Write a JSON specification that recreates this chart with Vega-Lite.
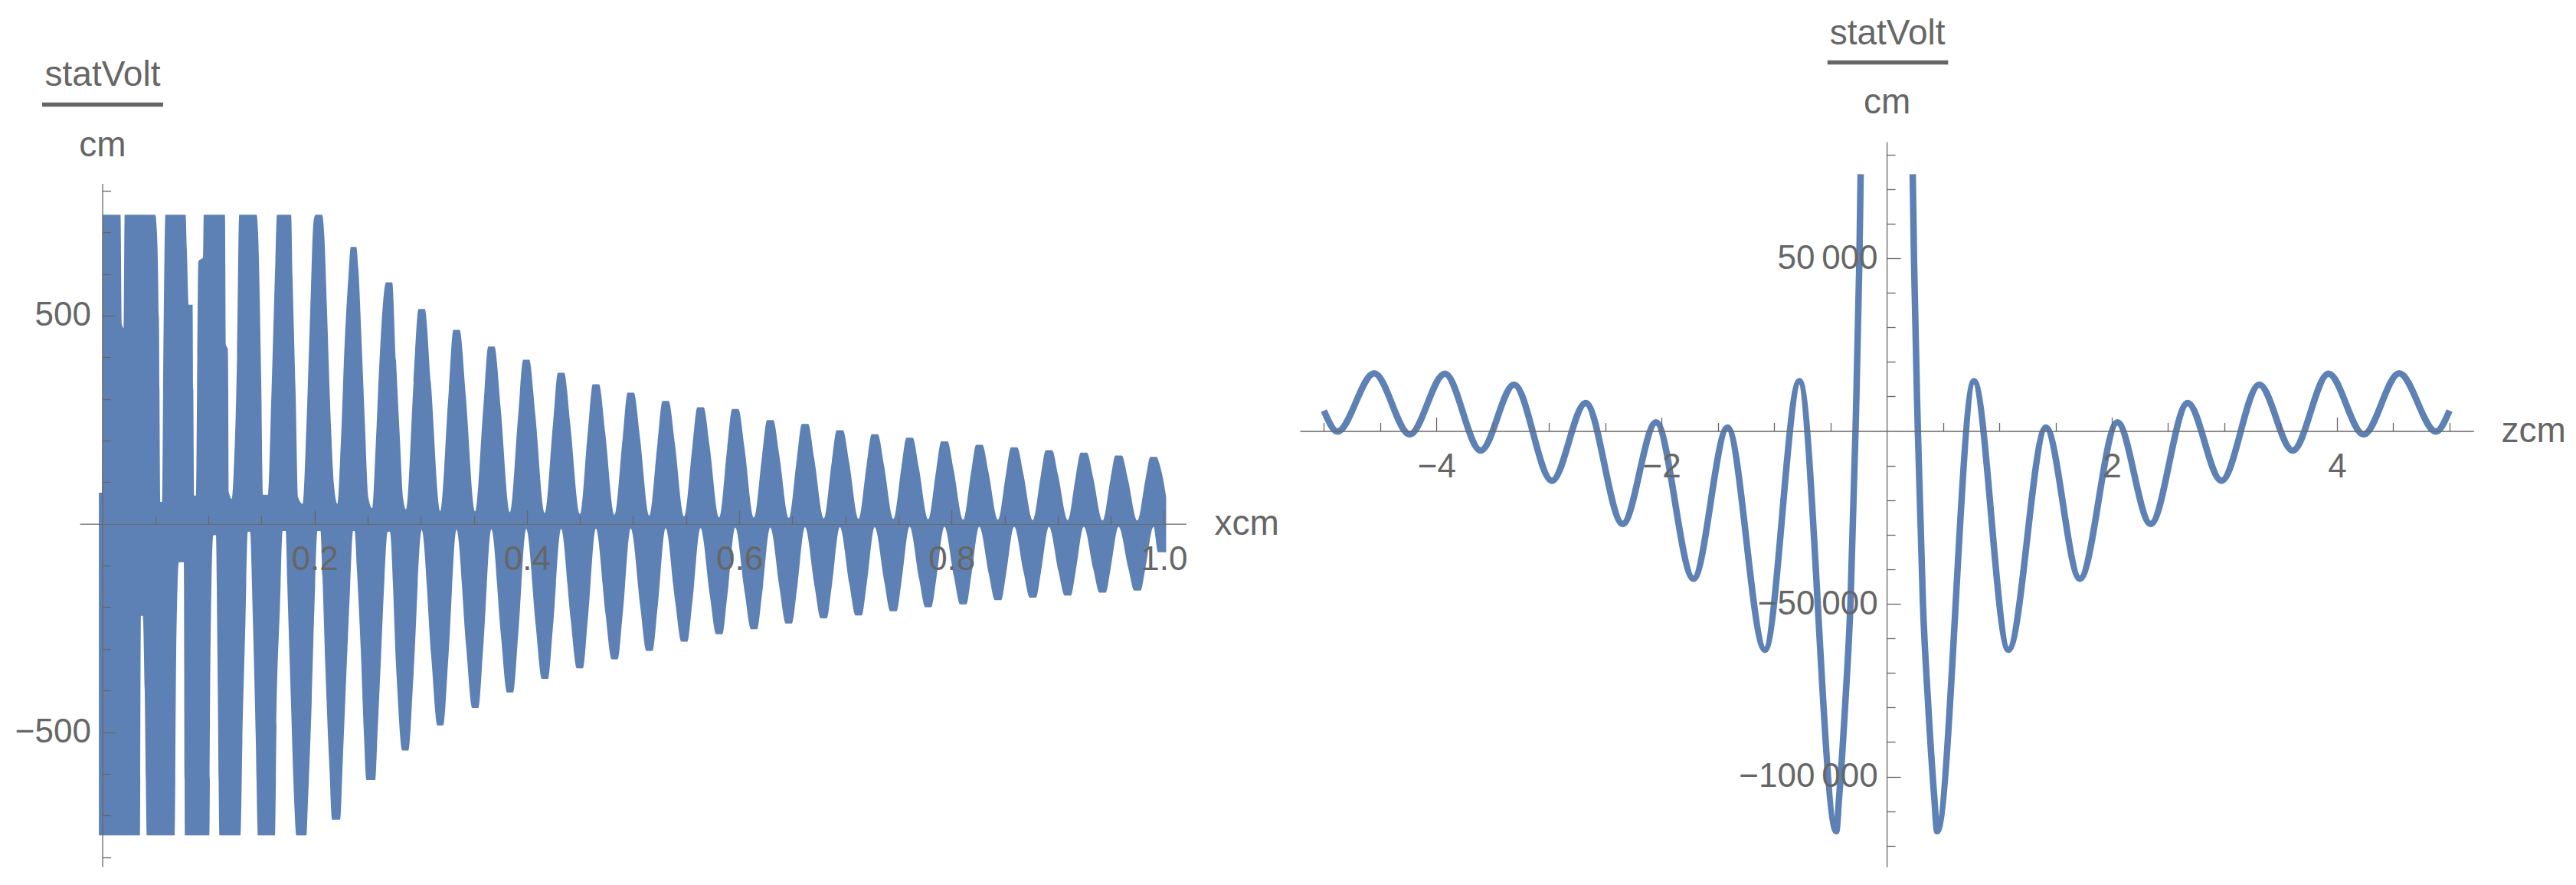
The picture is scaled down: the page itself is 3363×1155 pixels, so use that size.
{
"$schema": "https://vega.github.io/schema/vega-lite/v6.json",
"background": "white",
"padding": {"left": 19, "top": 20, "right": 0, "bottom": 0},
"config": {
 "view": {"stroke": null},
 "font": "Liberation Sans",
 "axis": {"grid": false, "domainColor": "#666666", "domainWidth": 1.3, "tickColor": "#666666", "tickWidth": 1.3, "labelColor": "#666666", "labelFont": "Liberation Sans", "labelFontSize": 44, "labelLimit": 0, "titleColor": "#666666", "titleFont": "Liberation Sans", "titleFontSize": 46, "titleFontWeight": "normal", "labelOverlap": false, "labelFlush": false, "labelBound": false, "zindex": 1, "titleAngle": 0},
 "title": {"font": "Liberation Sans", "fontSize": 46, "fontWeight": "normal", "color": "#666666", "anchor": "middle", "frame": "group"}
},
"datasets": {
 "pos": [
{"x":-0.0032,"v":75},{"x":0.0,"v":75},{"x":0.0003,"v":742},{"x":0.0172,"v":742},{"x":0.0184,"v":480},{"x":0.0202,"v":470},{"x":0.0211,"v":742},{"x":0.0499,"v":742},{"x":0.0516,"v":695},{"x":0.0534,"v":493},{"x":0.0548,"v":53},{"x":0.0563,"v":53},{"x":0.0577,"v":450},{"x":0.0595,"v":742},{"x":0.0785,"v":742},{"x":0.0797,"v":658},{"x":0.0815,"v":526},{"x":0.0851,"v":526},{"x":0.0866,"v":68},{"x":0.0885,"v":68},{"x":0.0895,"v":400},{"x":0.0905,"v":630},{"x":0.0949,"v":640},{"x":0.0956,"v":742},{"x":0.1156,"v":742},{"x":0.1165,"v":430},{"x":0.1183,"v":420},{"x":0.1194,"v":75},{"x":0.1219,"v":60},{"x":0.1237,"v":118},{"x":0.1270,"v":408},{"x":0.1290,"v":742},{"x":0.1454,"v":742},{"x":0.1468,"v":698},{"x":0.1497,"v":348},{"x":0.1515,"v":70},{"x":0.1562,"v":70},{"x":0.1595,"v":323},{"x":0.1631,"v":633},{"x":0.1646,"v":742},{"x":0.1779,"v":742},{"x":0.1793,"v":588},{"x":0.1822,"v":308},{"x":0.1847,"v":63},{"x":0.1887,"v":48},{"x":0.1926,"v":256},{"x":0.1959,"v":510},{"x":0.1991,"v":728},{"x":0.2009,"v":742},{"x":0.2071,"v":742},{"x":0.2089,"v":703},{"x":0.2118,"v":506},{"x":0.2150,"v":262},{"x":0.2183,"v":93},{"x":0.2215,"v":48},{"x":0.2248,"v":198},{"x":0.2284,"v":438},{"x":0.2320,"v":598},{"x":0.2341,"v":665},{"x":0.2392,"v":665},{"x":0.2413,"v":610},{"x":0.2442,"v":443},{"x":0.2475,"v":235},{"x":0.2507,"v":63},{"x":0.2543,"v":38},{"x":0.2576,"v":188},{"x":0.2608,"v":373},{"x":0.2644,"v":528},{"x":0.2673,"v":580},{"x":0.2731,"v":580},{"x":0.2767,"v":393},{"x":0.2803,"v":208},{"x":0.2835,"v":60},{"x":0.2861,"v":35},
{"x":0.2933,"v":341},{"x":0.2980,"v":516},{"x":0.3038,"v":516},{"x":0.3095,"v":341},{"x":0.3185,"v":30},
{"x":0.3261,"v":308},{"x":0.3308,"v":466},{"x":0.3366,"v":466},{"x":0.3424,"v":308},{"x":0.3514,"v":30},
{"x":0.3590,"v":281},{"x":0.3636,"v":426},{"x":0.3694,"v":426},{"x":0.3752,"v":281},{"x":0.3842,"v":28},
{"x":0.3918,"v":260},{"x":0.3965,"v":394},{"x":0.4022,"v":394},{"x":0.4080,"v":260},{"x":0.4170,"v":26},
{"x":0.4246,"v":240},{"x":0.4293,"v":363},{"x":0.4351,"v":363},{"x":0.4408,"v":240},{"x":0.4499,"v":24},
{"x":0.4574,"v":221},{"x":0.4621,"v":335},{"x":0.4679,"v":335},{"x":0.4737,"v":221},{"x":0.4827,"v":22},
{"x":0.4903,"v":208},{"x":0.4949,"v":315},{"x":0.5007,"v":315},{"x":0.5065,"v":208},{"x":0.5155,"v":20},
{"x":0.5231,"v":195},{"x":0.5278,"v":295},{"x":0.5335,"v":295},{"x":0.5393,"v":195},{"x":0.5483,"v":18},
{"x":0.5559,"v":185},{"x":0.5606,"v":280},{"x":0.5664,"v":280},{"x":0.5722,"v":185},{"x":0.5812,"v":16},
{"x":0.5887,"v":182},{"x":0.5934,"v":276},{"x":0.5992,"v":276},{"x":0.6050,"v":182},{"x":0.6140,"v":15},
{"x":0.6216,"v":164},{"x":0.6263,"v":249},{"x":0.6320,"v":249},{"x":0.6378,"v":164},{"x":0.6468,"v":14},
{"x":0.6544,"v":158},{"x":0.6591,"v":240},{"x":0.6649,"v":240},{"x":0.6706,"v":158},{"x":0.6797,"v":13},
{"x":0.6872,"v":149},{"x":0.6919,"v":225},{"x":0.6977,"v":225},{"x":0.7035,"v":149},{"x":0.7125,"v":12},
{"x":0.7201,"v":142},{"x":0.7248,"v":215},{"x":0.7305,"v":215},{"x":0.7363,"v":142},{"x":0.7453,"v":12},
{"x":0.7529,"v":137},{"x":0.7576,"v":207},{"x":0.7634,"v":207},{"x":0.7691,"v":137},{"x":0.7781,"v":11},
{"x":0.7857,"v":131},{"x":0.7904,"v":198},{"x":0.7962,"v":198},{"x":0.8019,"v":131},{"x":0.8110,"v":10},
{"x":0.8185,"v":125},{"x":0.8232,"v":190},{"x":0.8290,"v":190},{"x":0.8348,"v":125},{"x":0.8438,"v":10},
{"x":0.8514,"v":121},{"x":0.8561,"v":184},{"x":0.8618,"v":184},{"x":0.8676,"v":121},{"x":0.8766,"v":9},
{"x":0.8842,"v":117},{"x":0.8889,"v":177},{"x":0.8947,"v":177},{"x":0.9004,"v":117},{"x":0.9095,"v":9},
{"x":0.9170,"v":113},{"x":0.9217,"v":171},{"x":0.9275,"v":171},{"x":0.9333,"v":113},{"x":0.9423,"v":8},
{"x":0.9498,"v":108},{"x":0.9545,"v":164},{"x":0.9603,"v":164},{"x":0.9661,"v":108},{"x":0.9751,"v":8},
{"x":0.9827,"v":106},{"x":0.9874,"v":161},{"x":0.9931,"v":161},{"x":0.9953,"v":149},{"x":0.9989,"v":113},{"x":1.0022,"v":64}
 ],
 "neg": [
{"x":-0.0032,"v":-748},{"x":0.0355,"v":-748},{"x":0.0364,"v":-221},{"x":0.0382,"v":-221},{"x":0.0400,"v":-400},{"x":0.0420,"v":-748},{"x":0.0682,"v":-748},{"x":0.0696,"v":-320},{"x":0.0722,"v":-92},{"x":0.0768,"v":-92},{"x":0.0779,"v":-748},{"x":0.1009,"v":-748},{"x":0.1021,"v":-272},{"x":0.1046,"v":-27},{"x":0.1071,"v":-27},{"x":0.1086,"v":-337},{"x":0.1105,"v":-748},{"x":0.1302,"v":-748},{"x":0.1320,"v":-522},{"x":0.1349,"v":-232},{"x":0.1371,"v":-19},{"x":0.1392,"v":-19},{"x":0.1418,"v":-224},{"x":0.1447,"v":-527},{"x":0.1466,"v":-748},{"x":0.1627,"v":-748},{"x":0.1641,"v":-487},{"x":0.1674,"v":-197},{"x":0.1699,"v":-17},{"x":0.1728,"v":-17},{"x":0.1746,"v":-170},{"x":0.1779,"v":-440},{"x":0.1811,"v":-682},{"x":0.1829,"v":-748},{"x":0.1923,"v":-748},{"x":0.1937,"v":-670},{"x":0.1973,"v":-427},{"x":0.2002,"v":-172},{"x":0.2027,"v":-17},{"x":0.2056,"v":-17},{"x":0.2074,"v":-127},{"x":0.2103,"v":-354},{"x":0.2139,"v":-580},{"x":0.2165,"v":-710},{"x":0.2240,"v":-710},{"x":0.2266,"v":-567},{"x":0.2298,"v":-369},{"x":0.2334,"v":-157},{"x":0.2363,"v":-17},{"x":0.2377,"v":-17},{"x":0.2399,"v":-112},{"x":0.2435,"v":-302},{"x":0.2464,"v":-500},{"x":0.2489,"v":-615},{"x":0.2572,"v":-615},{"x":0.2594,"v":-497},{"x":0.2626,"v":-319},{"x":0.2659,"v":-129},{"x":0.2688,"v":-19},{"x":0.2709,"v":-19},
{"x":0.2771,"v":-359},{"x":0.2828,"v":-544},{"x":0.2886,"v":-544},{"x":0.2933,"v":-359},{"x":0.3009,"v":-15},
{"x":0.3099,"v":-319},{"x":0.3157,"v":-484},{"x":0.3214,"v":-484},{"x":0.3261,"v":-319},{"x":0.3337,"v":-14},
{"x":0.3427,"v":-292},{"x":0.3485,"v":-442},{"x":0.3543,"v":-442},{"x":0.3590,"v":-292},{"x":0.3665,"v":-13},
{"x":0.3755,"v":-267},{"x":0.3813,"v":-405},{"x":0.3871,"v":-405},{"x":0.3918,"v":-267},{"x":0.3994,"v":-12},
{"x":0.4084,"v":-246},{"x":0.4141,"v":-372},{"x":0.4199,"v":-372},{"x":0.4246,"v":-246},{"x":0.4322,"v":-12},
{"x":0.4412,"v":-229},{"x":0.4470,"v":-347},{"x":0.4527,"v":-347},{"x":0.4574,"v":-229},{"x":0.4650,"v":-11},
{"x":0.4740,"v":-215},{"x":0.4798,"v":-325},{"x":0.4856,"v":-325},{"x":0.4903,"v":-215},{"x":0.4978,"v":-11},
{"x":0.5069,"v":-201},{"x":0.5126,"v":-305},{"x":0.5184,"v":-305},{"x":0.5231,"v":-201},{"x":0.5307,"v":-10},
{"x":0.5397,"v":-187},{"x":0.5455,"v":-283},{"x":0.5512,"v":-283},{"x":0.5559,"v":-187},{"x":0.5635,"v":-10},
{"x":0.5725,"v":-175},{"x":0.5783,"v":-265},{"x":0.5841,"v":-265},{"x":0.5887,"v":-175},{"x":0.5963,"v":-9},
{"x":0.6053,"v":-167},{"x":0.6111,"v":-253},{"x":0.6169,"v":-253},{"x":0.6216,"v":-167},{"x":0.6292,"v":-9},
{"x":0.6382,"v":-158},{"x":0.6439,"v":-239},{"x":0.6497,"v":-239},{"x":0.6544,"v":-158},{"x":0.6620,"v":-8},
{"x":0.6710,"v":-150},{"x":0.6768,"v":-227},{"x":0.6825,"v":-227},{"x":0.6872,"v":-150},{"x":0.6948,"v":-8},
{"x":0.7038,"v":-145},{"x":0.7096,"v":-220},{"x":0.7154,"v":-220},{"x":0.7201,"v":-145},{"x":0.7276,"v":-8},
{"x":0.7367,"v":-139},{"x":0.7424,"v":-210},{"x":0.7482,"v":-210},{"x":0.7529,"v":-139},{"x":0.7605,"v":-7},
{"x":0.7695,"v":-132},{"x":0.7753,"v":-200},{"x":0.7810,"v":-200},{"x":0.7857,"v":-132},{"x":0.7933,"v":-7},
{"x":0.8023,"v":-127},{"x":0.8081,"v":-193},{"x":0.8139,"v":-193},{"x":0.8185,"v":-127},{"x":0.8261,"v":-7},
{"x":0.8352,"v":-121},{"x":0.8409,"v":-183},{"x":0.8467,"v":-183},{"x":0.8514,"v":-121},{"x":0.8590,"v":-7},
{"x":0.8680,"v":-117},{"x":0.8737,"v":-177},{"x":0.8795,"v":-177},{"x":0.8842,"v":-117},{"x":0.8918,"v":-7},
{"x":0.9008,"v":-114},{"x":0.9066,"v":-172},{"x":0.9123,"v":-172},{"x":0.9170,"v":-114},{"x":0.9246,"v":-7},
{"x":0.9336,"v":-109},{"x":0.9394,"v":-165},{"x":0.9452,"v":-165},{"x":0.9498,"v":-109},{"x":0.9574,"v":-7},
{"x":0.9665,"v":-106},{"x":0.9722,"v":-160},{"x":0.9780,"v":-160},{"x":0.9827,"v":-106},{"x":0.9903,"v":-7},
{"x":0.9946,"v":-68},{"x":1.0022,"v":-68}
 ],
 "zc": [
{"z":-5,"v":5900,"s":"a"},{"z":-4.88,"v":-150,"s":"a"},{"z":-4.553,"v":16700,"s":"a"},{"z":-4.237,"v":-1000,"s":"a"},{"z":-3.925,"v":16600,"s":"a"},{"z":-3.607,"v":-5650,"s":"a"},{"z":-3.31,"v":13400,"s":"a"},{"z":-2.974,"v":-14400,"s":"a"},{"z":-2.674,"v":8100,"s":"a"},{"z":-2.345,"v":-26900,"s":"a"},{"z":-2.049,"v":2500,"s":"a"},{"z":-1.716,"v":-42750,"s":"a"},{"z":-1.414,"v":1000,"s":"a"},{"z":-1.082,"v":-63300,"s":"a"},{"z":-0.775,"v":14400,"s":"a"},{"z":-0.448,"v":-115800,"s":"a"},{"z":-0.424,"v":-106600,"s":"a"},{"z":-0.367,"v":-78300,"s":"a"},{"z":-0.322,"v":-50000,"s":"a"},{"z":-0.277,"v":0,"s":"a"},{"z":-0.243,"v":49100,"s":"a"},{"z":-0.2313,"v":74300,"s":"a"},
{"z":0.2313,"v":74300,"s":"b"},{"z":0.243,"v":49100,"s":"b"},{"z":0.277,"v":0,"s":"b"},{"z":0.322,"v":-50000,"s":"b"},{"z":0.367,"v":-78300,"s":"b"},{"z":0.424,"v":-106600,"s":"b"},{"z":0.448,"v":-115800,"s":"b"},{"z":0.775,"v":14400,"s":"b"},{"z":1.082,"v":-63300,"s":"b"},{"z":1.414,"v":1000,"s":"b"},{"z":1.716,"v":-42750,"s":"b"},{"z":2.049,"v":2500,"s":"b"},{"z":2.345,"v":-26900,"s":"b"},{"z":2.674,"v":8100,"s":"b"},{"z":2.974,"v":-14400,"s":"b"},{"z":3.31,"v":13400,"s":"b"},{"z":3.607,"v":-5650,"s":"b"},{"z":3.925,"v":16600,"s":"b"},{"z":4.237,"v":-1000,"s":"b"},{"z":4.553,"v":16700,"s":"b"},{"z":4.88,"v":-150,"s":"b"},{"z":5,"v":5900,"s":"b"}
 ]
},
"columns": 2,
"bounds": "full",
"spacing": 27,
"concat": [
 {
  "width": 1444.5,
  "height": 946.1,
  "title": {"text": "statVolt", "dx": -692.25, "offset": 12.3},
  "layer": [
   {
    "data": {"name": "pos"},
    "mark": {"type": "area", "interpolate": "monotone", "color": "#5e81b5"},
    "encoding": {
     "x": {"field": "x", "type": "quantitative", "scale": {"domain": [-0.02129, 1.021], "nice": false, "zero": false},
      "axis": {"orient": "bottom", "offset": -447.4, "zindex": 2,
       "values": [0.05,0.1,0.15,0.2,0.25,0.3,0.35,0.4,0.45,0.5,0.55,0.6,0.65,0.7,0.75,0.8,0.85,0.9,0.95,1],
       "tickSize": {"condition": {"test": "abs(datum.value*5 - round(datum.value*5)) < 0.000001", "value": -18}, "value": -11},
       "labelExpr": "abs(datum.value*5 - round(datum.value*5)) < 0.000001 ? format(datum.value, '.1f') : ''",
       "labelPadding": 43.2, "labelBaseline": "top", "labelAlign": "center",
       "title": "xcm", "titleX": 1481, "titleY": 0, "titleAlign": "left", "titleBaseline": "middle"}},
     "y": {"field": "v", "type": "quantitative", "scale": {"domain": [-823, 917.4], "nice": false, "zero": false},
      "axis": {"orient": "left", "offset": -29.5, "zindex": 2, "domainDash": [891.6, 3000],
       "values": [-800,-700,-600,-500,-400,-300,-200,-100,100,200,300,400,500,600,700,800],
       "tickSize": {"condition": {"test": "abs(datum.value) == 500", "value": -18}, "value": -11},
       "labelExpr": "abs(datum.value) == 500 ? format(datum.value, 'd') : ''",
       "labelPadding": 33.1, "labelAlign": "right", "labelBaseline": "middle",
       "title": "cm", "titleX": 0, "titleY": 18.5, "titleAlign": "center", "titleBaseline": "alphabetic"}},
     "y2": {"datum": 0}
    }
   },
   {
    "data": {"name": "neg"},
    "mark": {"type": "area", "interpolate": "monotone", "color": "#5e81b5"},
    "encoding": {
     "x": {"field": "x", "type": "quantitative"},
     "y": {"field": "v", "type": "quantitative"},
     "y2": {"datum": 0}
    }
   },
   {
    "data": {"values": [{"bar": "fraction"}]},
    "mark": {"type": "rule", "strokeWidth": 5.4, "color": "#666666"},
    "encoding": {
     "x": {"datum": -0.05664},
     "x2": {"datum": 0.05736},
     "y": {"datum": 1006.6}
    }
   }
  ]
 },
 {
  "width": 1532.3,
  "height": 946.5,
  "title": {"text": "statVolt", "dx": 1, "offset": 10.9},
  "layer": [
   {
    "data": {"name": "zc"},
    "mark": {"type": "line", "interpolate": "monotone", "strokeWidth": 8.5, "color": "#5e81b5", "strokeCap": "butt"},
    "encoding": {
     "x": {"field": "z", "type": "quantitative", "scale": {"domain": [-5.2133, 5.214], "nice": false, "zero": false},
      "axis": {"orient": "bottom", "offset": -569, "zindex": 2,
       "values": [-5,-4.5,-4,-3.5,-3,-2.5,-2,-1.5,-1,-0.5,0.5,1,1.5,2,2.5,3,3.5,4,4.5,5],
       "tickSize": {"condition": {"test": "abs(datum.value/2 - round(datum.value/2)) < 0.000001", "value": -18}, "value": -11},
       "labelExpr": "abs(datum.value/2 - round(datum.value/2)) < 0.000001 ? format(datum.value, 'd') : ''",
       "labelPadding": 43.2, "labelBaseline": "top", "labelAlign": "center",
       "title": "zcm", "titleX": 1568, "titleY": 0, "titleAlign": "left", "titleBaseline": "middle"}},
     "y": {"field": "v", "type": "quantitative", "scale": {"domain": [-126164, 83703], "nice": false, "zero": false},
      "axis": {"orient": "left", "offset": -766.1, "zindex": 2,
       "values": [-120000,-110000,-100000,-90000,-80000,-70000,-60000,-50000,-40000,-30000,-20000,-10000,10000,20000,30000,40000,50000,60000,70000,80000],
       "tickSize": {"condition": {"test": "abs(datum.value/50000 - round(datum.value/50000)) < 0.000001", "value": -18}, "value": -11},
       "labelExpr": "abs(datum.value/50000 - round(datum.value/50000)) < 0.000001 ? replace(format(datum.value, ','), ',', '\u2009') : ''",
       "labelPadding": 30, "labelAlign": "right", "labelBaseline": "middle",
       "title": "cm", "titleX": 0, "titleY": -37.2, "titleAlign": "center", "titleBaseline": "alphabetic"}},
     "detail": {"field": "s"}
    }
   },
   {
    "data": {"values": [{"bar": "fraction"}]},
    "mark": {"type": "rule", "strokeWidth": 5.4, "color": "#666666"},
    "encoding": {
     "x": {"datum": -0.526},
     "x2": {"datum": 0.546},
     "y": {"datum": 106652}
    }
   }
  ]
 }
]
}
